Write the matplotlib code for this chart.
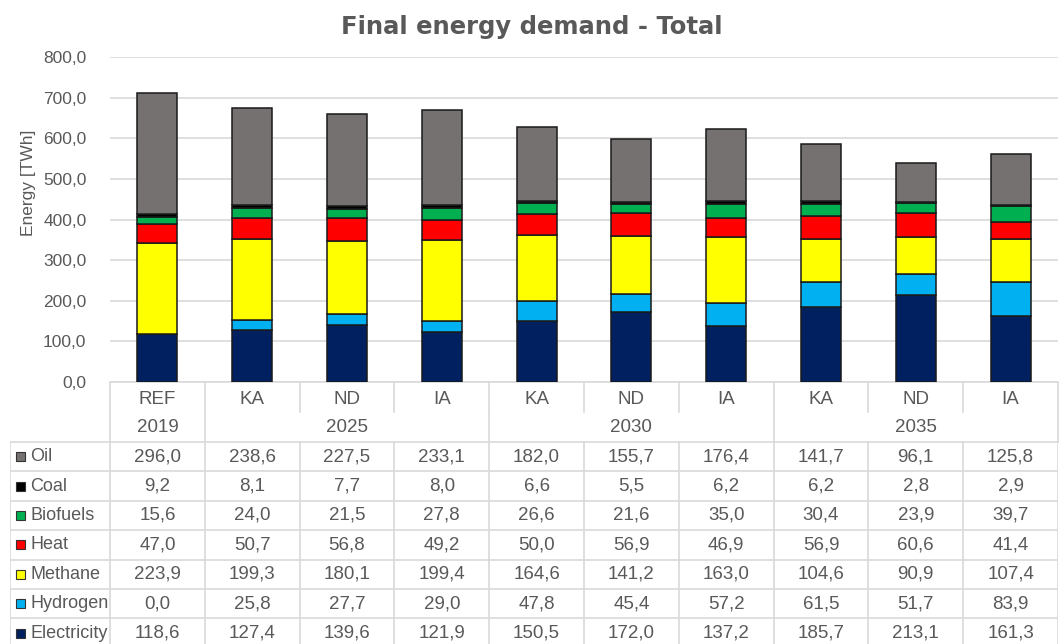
import matplotlib
matplotlib.use("Agg")
import matplotlib.pyplot as plt
from matplotlib.patches import Rectangle
import numpy as np
from matplotlib import font_manager

scenarios = ["REF", "KA", "ND", "IA", "KA", "ND", "IA", "KA", "ND", "IA"]
years = ["2019", "2025", "2030", "2035"]
year_groups = [(0, 0), (1, 3), (4, 6), (7, 9)]

electricity = [118.6, 127.4, 139.6, 121.9, 150.5, 172.0, 137.2, 185.7, 213.1, 161.3]
hydrogen = [0.0, 25.8, 27.7, 29.0, 47.8, 45.4, 57.2, 61.5, 51.7, 83.9]
methane = [223.9, 199.3, 180.1, 199.4, 164.6, 141.2, 163.0, 104.6, 90.9, 107.4]
heat = [47.0, 50.7, 56.8, 49.2, 50.0, 56.9, 46.9, 56.9, 60.6, 41.4]
biofuels = [15.6, 24.0, 21.5, 27.8, 26.6, 21.6, 35.0, 30.4, 23.9, 39.7]
coal = [9.2, 8.1, 7.7, 8.0, 6.6, 5.5, 6.2, 6.2, 2.8, 2.9]
oil = [296.0, 238.6, 227.5, 233.1, 182.0, 155.7, 176.4, 141.7, 96.1, 125.8]

series_names = ["Electricity", "Hydrogen", "Methane", "Heat", "Biofuels", "Coal", "Oil"]
series_vals = [electricity, hydrogen, methane, heat, biofuels, coal, oil]
colors = ["#002060", "#00B0F0", "#FFFF00", "#FF0000", "#00B050", "#000000", "#767171"]

yticks = [0, 100, 200, 300, 400, 500, 600, 700, 800]

installed = {f.name for f in font_manager.fontManager.ttflist}
narrow = "Liberation Sans Narrow" if "Liberation Sans Narrow" in installed else "Liberation Sans"
plt.rcParams['font.family'] = [narrow, 'DejaVu Sans']

TXT = "#595959"
GRID = "#D9D9D9"
W, H = 1060, 644
fig = plt.figure(figsize=(W / 100, H / 100), dpi=100)

ax_l, ax_r = 110, 1058
y0px, y800px = 382, 57
ax = fig.add_axes([ax_l / W, (H - y0px) / H, (ax_r - ax_l) / W, (y0px - y800px) / H])
x = np.arange(len(scenarios))
bottom = np.zeros(len(scenarios))
for name, vals, c in zip(series_names, series_vals, colors):
    ax.bar(x, vals, 0.42, bottom=bottom, color=c, edgecolor="#1a1a1a", linewidth=1.1, zorder=3)
    bottom += np.array(vals)
ax.set_xlim(-0.5, len(scenarios) - 0.5)
ax.set_ylim(0, 800)
ax.set_yticks(yticks)
ax.set_yticklabels([f"{v:.1f}".replace(".", ",") for v in yticks], color=TXT, fontsize=12.5)
ax.tick_params(axis="y", length=0, pad=17)
ax.set_xticks([])
ax.grid(axis="y", color=GRID, linewidth=1.2, zorder=0)
for s in ["top", "right", "left"]:
    ax.spines[s].set_visible(False)
ax.spines["bottom"].set_color(GRID)
ax.spines["bottom"].set_linewidth(1.2)
ax.set_ylabel("Energy [TWh]", color=TXT, fontsize=12.5)
ax.yaxis.set_label_coords(-74 / (ax_r - ax_l), (y0px - 183) / (y0px - y800px))

fig.text(532 / W, 1 - 27 / H, "Final energy demand - Total", ha="center", va="center",
         fontsize=17.5, fontweight="heavy", color=TXT, family="DejaVu Sans")

# table
tab_left = 10
unit = (ax_r - ax_l) / len(scenarios)
xmin = -0.5 - (ax_l - tab_left) / unit
top_px = 383
th = H - top_px
tax = fig.add_axes([tab_left / W, 0, (ax_r - tab_left) / W, th / H])
tax.set_xlim(xmin, len(scenarios) - 0.5)
tax.set_ylim(th, 0)
tax.axis("off")

rows = [0, 30, 59]
rh = 29.4
for i in range(8):
    rows.append(59 + (i + 1) * rh)
lw = 1.2
xr = len(scenarios) - 0.5
for k in range(len(scenarios) + 1):
    xx = k - 0.5
    tax.plot([xx, xx], [rows[0], rows[1] - 1], color=GRID, lw=lw, clip_on=False)
for k in [-0.5, 0.5, 3.5, 6.5, xr]:
    tax.plot([k, k], [rows[1], rows[2]], color=GRID, lw=lw, clip_on=False)
for r in rows[2:]:
    tax.plot([xmin, xr], [r, r], color=GRID, lw=lw)
for k in [xmin] + [i - 0.5 for i in range(len(scenarios) + 1)]:
    tax.plot([k, k], [rows[2], th], color=GRID, lw=lw)

for i, s in enumerate(scenarios):
    tax.text(i, (rows[0] + rows[1]) / 2 + 1, s, ha="center", va="center", fontsize=13.5, color=TXT)
for yl, (a, b) in zip(years, year_groups):
    tax.text((a + b) / 2, (rows[1] + rows[2]) / 2, yl, ha="center", va="center", fontsize=13.5, color=TXT)

table_order = list(range(len(series_names)))[::-1]
for ri, si in enumerate(table_order):
    yc = rows[2] + (ri + 0.5) * rh
    vals = series_vals[si]
    for i, v in enumerate(vals):
        tax.text(i, yc, f"{v:.1f}".replace(".", ","), ha="center", va="center", fontsize=13.5,
                 color=TXT, clip_on=False)
    kx = xmin + 6 / unit
    ks = 9
    tax.add_patch(Rectangle((kx, yc - ks / 2), ks / unit, ks, facecolor=colors[si],
                            edgecolor="#333333", lw=0.8, clip_on=False))
    tax.text(xmin + 20 / unit, yc, series_names[si], ha="left", va="center", fontsize=13, color=TXT)

fig.savefig("out.png", dpi=100)
